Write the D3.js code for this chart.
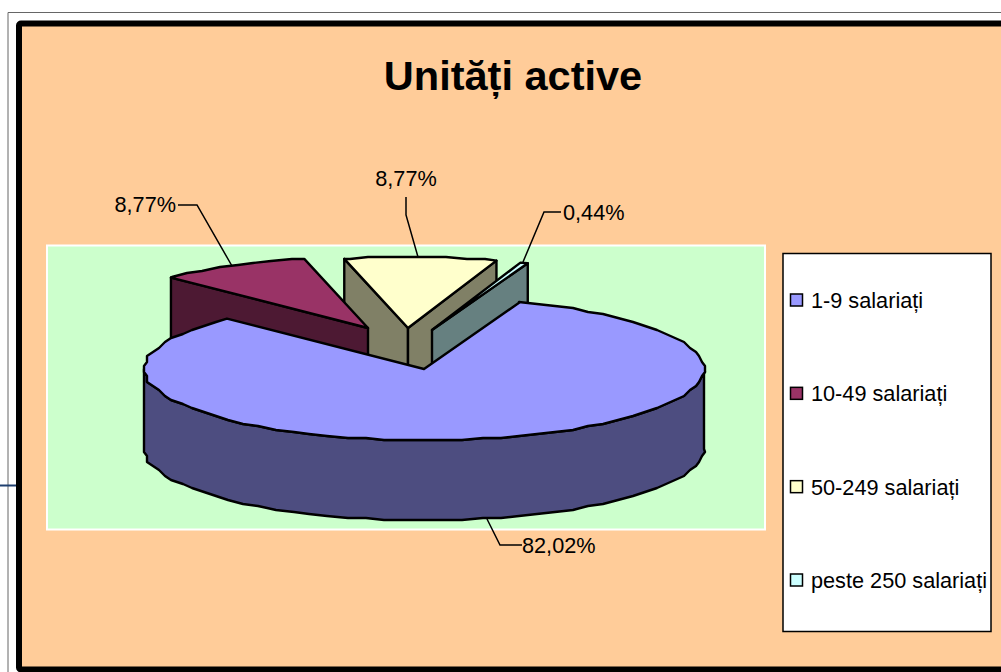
<!DOCTYPE html>
<html>
<head>
<meta charset="utf-8">
<script src="https://d3js.org/d3.v7.min.js"></script>
<style>
  html, body { margin: 0; padding: 0; background: #fff; overflow: hidden; }
  text { font-family: "Liberation Sans", Arial, sans-serif; fill: #000; }
</style>
</head>
<body>
<div id="canvas_pie"></div>
<script>
// Chart values
const categories = ["1-9 salariați", "10-49 salariați", "50-249 salariați", "peste 250 salariați"];
const shares = [82.02, 8.77, 8.77, 0.44];
const shareLabels = ["82,02%", "8,77%", "8,77%", "0,44%"];
const chartTitle = "Unități active";

// Colours per slice: top face and shaded wall
const topColors = ["#9999ff", "#993366", "#ffffcc", "#ccffff"];
const wallColors = ["#4d4d80", "#4d1933", "#808066", "#668080"];

// Page size and pie projection
const width = 1001, height = 672;
const cx = 424, cy = 369, rx = 280, ry = 71, depth = 80;
const startAngle = 20 * Math.PI / 180;

const svg = d3.select("#canvas_pie").append("svg")
    .attr("width", width)
    .attr("height", height);

// Outer frames of the pasted chart
svg.append("path")
    .attr("d", "M8,672V12.5H1001")
    .attr("fill", "none")
    .attr("stroke", "#666")
    .attr("stroke-width", 1);
svg.append("line")
    .attr("x1", 0).attr("x2", 17).attr("y1", 485.5).attr("y2", 485.5)
    .attr("stroke", "#1f3f6f").attr("stroke-width", 2);
// The chart runs off the right and bottom of the picture
svg.append("rect")
    .attr("x", 19).attr("y", 23.5)
    .attr("width", 1000).attr("height", 646)
    .attr("rx", 2)
    .attr("fill", "#ffcc99")
    .attr("stroke", "#000").attr("stroke-width", 6);

// Plot area
svg.append("rect")
    .attr("x", 47).attr("y", 245.5)
    .attr("width", 718).attr("height", 284)
    .attr("fill", "#ccffcc")
    .attr("stroke", "#fff").attr("stroke-width", 2);

// Title
svg.append("text")
    .attr("x", 513).attr("y", 90)
    .attr("text-anchor", "middle")
    .attr("font-size", 41.5)
    .attr("font-weight", "bold")
    .text(chartTitle);

// Unit circle mapped on to the flattened ellipse
const x = d3.scaleLinear().domain([-1, 1]).range([cx - rx, cx + rx]);
const y = d3.scaleLinear().domain([-1, 1]).range([cy + ry, cy - ry]);
const rimX = a => x(Math.sin(a));
const rimY = a => y(Math.cos(a));

const pie = d3.pie().sort(null)
    .startAngle(startAngle)
    .endAngle(startAngle + 2 * Math.PI);
const arcs = pie(shares);

const line = d3.line().x(d => d[0]).y(d => d[1]);

// Rim points snapped to a coarse grid so the edge keeps its stepped look.
// Angles come from one shared step so top face and outer wall line up.
const rimStep = 4 * Math.PI / 180;
function rim(a0, a1) {
    const first = Math.ceil(a0 / rimStep), last = Math.floor(a1 / rimStep);
    const inner = d3.range(first, last + 1).map(k => {
        const a = k * rimStep;
        return [Math.round(rimX(a) / 3) * 3, Math.round(rimY(a) / 2) * 2];
    });
    return [[rimX(a0), rimY(a0)], ...inner, [rimX(a1), rimY(a1)]];
}

// Exploded slices are shifted away from the pie centre
const offsets = [[0, 0], [-56, -41], [-16, -41], [8, -39]];
const drawOrder = [2, 3, 1, 0];

function styled(sel) {
    return sel.attr("stroke", "#000")
        .attr("stroke-width", 2.4)
        .attr("stroke-linejoin", "round");
}

drawOrder.forEach(i => {
    const d = arcs[i];
    const g = svg.append("g")
        .attr("transform", `translate(${offsets[i][0]},${offsets[i][1]})`);
    const a0 = d.startAngle, a1 = d.endAngle;
    const p0 = [rimX(a0), rimY(a0)], p1 = [rimX(a1), rimY(a1)];
    const apex = [cx, cy];

    // Walls along the cut edges, only the ones facing the viewer
    const walls = [];
    if (i === 1) walls.push(p0);
    if (i === 2) walls.push(p0, p1);
    if (i === 3) walls.push(p1);
    walls.forEach(p => {
        styled(g.append("path"))
            .attr("d", line([apex, p, [p[0], p[1] + depth], [apex[0], apex[1] + depth]]) + "Z")
            .attr("fill", wallColors[i]);
    });

    // Outer wall of the big slice, front half only
    if (i === 0) {
        const front = rim(Math.PI / 2, 3 * Math.PI / 2);
        const lower = front.map(p => [p[0], p[1] + depth]).reverse();
        styled(g.append("path"))
            .attr("d", line(front.concat(lower)) + "Z")
            .attr("fill", wallColors[i]);
    }

    styled(g.append("path"))
        .attr("d", line([apex].concat(rim(a0, a1))) + "Z")
        .attr("fill", topColors[i]);
});

// Data labels with their leader lines
const labelLayout = [
    { tx: 522, ty: 553, anchor: "start", leader: [[522, 545], [500, 545], [487, 519]] },
    { tx: 176, ty: 212, anchor: "end", leader: [[178, 205], [197, 205], [232, 266]] },
    { tx: 406, ty: 186, anchor: "middle", leader: [[406, 197], [406, 215], [418, 257]] },
    { tx: 563, ty: 220, anchor: "start", leader: [[561, 212], [544, 212], [523, 262]] }
];
labelLayout.forEach((l, i) => {
    svg.append("path")
        .attr("d", line(l.leader))
        .attr("fill", "none")
        .attr("stroke", "#000")
        .attr("stroke-width", 1.5);
    svg.append("text")
        .attr("x", l.tx).attr("y", l.ty)
        .attr("text-anchor", l.anchor)
        .attr("font-size", 21.7)
        .text(shareLabels[i]);
});

// Legend
const legend = svg.append("g");
legend.append("rect")
    .attr("x", 783).attr("y", 253.5)
    .attr("width", 208).attr("height", 378)
    .attr("fill", "#fff")
    .attr("stroke", "#000").attr("stroke-width", 1.5);

const legendY = d3.scalePoint()
    .domain(categories)
    .range([300, 580]);

categories.forEach((c, i) => {
    legend.append("rect")
        .attr("x", 790.5).attr("y", legendY(c) - 6)
        .attr("width", 12).attr("height", 12)
        .attr("fill", topColors[i])
        .attr("stroke", "#000").attr("stroke-width", 1.5);
    legend.append("text")
        .attr("x", 811).attr("y", legendY(c) + 8)
        .attr("font-size", 21.7)
        .text(c);
});
</script>
</body>
</html>
